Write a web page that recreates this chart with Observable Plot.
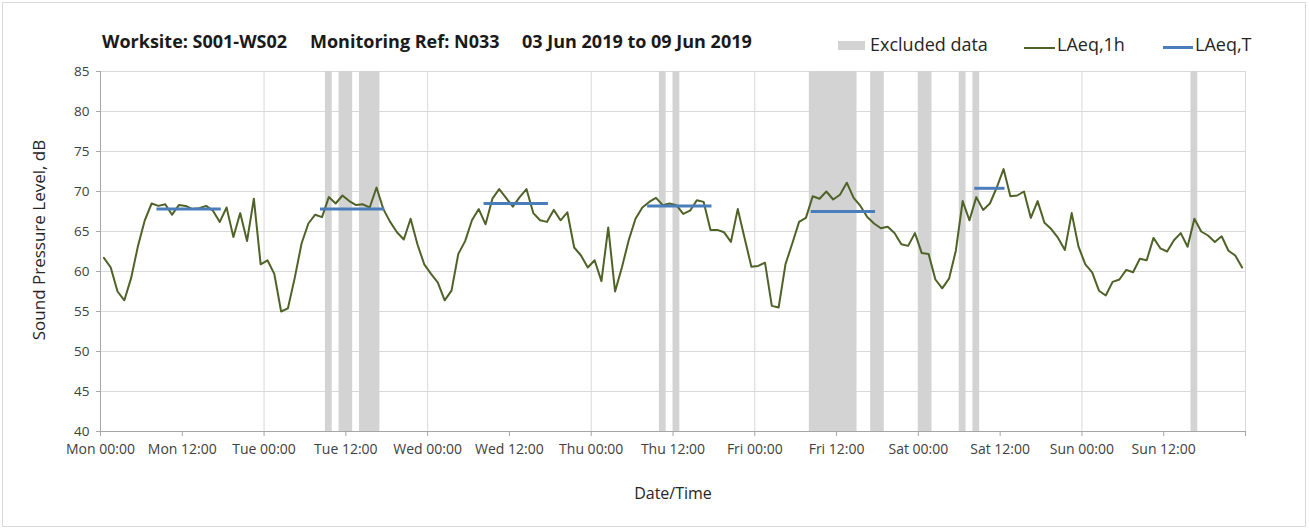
<!DOCTYPE html>
<html>
<head>
<meta charset="utf-8">
<script src="https://cdn.jsdelivr.net/npm/d3@7"></script>
<script src="https://cdn.jsdelivr.net/npm/@observablehq/plot@0.6"></script>
<style>
  body { margin: 0; background: #fff; font-family: "Open Sans", sans-serif; }
  #wrap { position: relative; width: 1309px; height: 530px; overflow: hidden; background: #fff; }
  #frame { position: absolute; left: 2px; top: 2px; width: 1304px; height: 525px; border: 1px solid #d9d9d9; box-sizing: border-box; pointer-events: none; }
  #header { position: absolute; left: 0; top: 0; width: 1309px; height: 56px; }
  .t { position: absolute; top: 30px; font-weight: bold; font-size: 18px; color: #1a1a1a; white-space: nowrap; line-height: 22px; }
  .lg { position: absolute; top: 33px; font-size: 18px; color: #262626; white-space: nowrap; line-height: 22px; }
  .sw { position: absolute; }
  #chart { position: absolute; left: 0; top: 56px; }
  #ylab { position: absolute; left: 38px; top: 240px; transform: translate(-50%, -50%) rotate(-90deg); font-size: 17px; color: #262626; white-space: nowrap; }
  #xlab { position: absolute; left: 673px; top: 493px; transform: translate(-50%, -50%); font-size: 16px; color: #262626; white-space: nowrap; }
</style>
</head>
<body>
<div id="wrap">
  <div id="header">
    <span class="t" style="left:102px">Worksite: S001-WS02</span>
    <span class="t" style="left:310px">Monitoring Ref: N033</span>
    <span class="t" style="left:522px">03 Jun 2019 to 09 Jun 2019</span>
    <div class="sw" style="left:838px;top:41px;width:27px;height:9px;background:#d3d3d3"></div>
    <span class="lg" style="left:870px">Excluded data</span>
    <div class="sw" style="left:1024px;top:47px;width:31px;height:2px;background:#4f6228"></div>
    <span class="lg" style="left:1057px">LAeq,1h</span>
    <div class="sw" style="left:1163px;top:46px;width:30px;height:3px;background:#4a7ebb"></div>
    <span class="lg" style="left:1195px">LAeq,T</span>
  </div>
  <div id="chart"></div>
  <div id="ylab">Sound Pressure Level, dB</div>
  <div id="xlab">Date/Time</div>
  <div id="frame"></div>
</div>
<script>
// ---- Data (hourly LAeq,1h, dB) ----
const weekStart = "2019-06-03T00:00Z";
const weekEnd = "2019-06-10T00:00Z";
const mon = [61.7, 60.5, 57.5, 56.4, 59.2, 63.2, 66.4, 68.5, 68.2, 68.4, 67.1, 68.3, 68.2, 67.8, 67.9, 68.2, 67.6, 66.2, 68.0, 64.3, 67.3, 63.8, 69.1, 60.9];
const tue = [61.4, 59.7, 55.0, 55.4, 59.2, 63.5, 66.0, 67.1, 66.8, 69.3, 68.5, 69.5, 68.8, 68.3, 68.4, 68.0, 70.5, 67.8, 66.2, 64.9, 64.0, 66.6, 63.4, 60.9];
const wed = [59.7, 58.6, 56.4, 57.6, 62.2, 63.8, 66.4, 67.8, 65.9, 69.1, 70.3, 69.2, 68.1, 69.3, 70.3, 67.3, 66.4, 66.2, 67.7, 66.4, 67.4, 63.0, 62.0, 60.5];
const thu = [61.4, 58.8, 65.5, 57.5, 60.5, 63.9, 66.6, 68.0, 68.7, 69.2, 68.3, 68.5, 68.3, 67.2, 67.6, 68.9, 68.7, 65.2, 65.2, 64.9, 63.7, 67.8, 64.2, 60.6];
const fri = [60.7, 61.1, 55.7, 55.5, 60.9, 63.5, 66.2, 66.7, 69.4, 69.1, 70.0, 69.0, 69.6, 71.1, 69.2, 68.2, 66.8, 66.0, 65.4, 65.6, 64.8, 63.4, 63.2, 64.8];
const sat = [62.3, 62.2, 59.0, 57.9, 59.1, 62.6, 68.8, 66.4, 69.3, 67.7, 68.5, 70.5, 72.8, 69.4, 69.5, 70.0, 66.7, 68.8, 66.1, 65.3, 64.2, 62.7, 67.3, 63.1];
const sun = [60.9, 59.9, 57.6, 57.0, 58.7, 59.0, 60.2, 59.9, 61.6, 61.4, 64.2, 62.9, 62.5, 63.9, 64.8, 63.1, 66.6, 65.0, 64.5, 63.7, 64.4, 62.6, 62.0, 60.5];

// Excluded data periods
const excludedStart = ["2019-06-04T09:00Z", "2019-06-04T11:00Z", "2019-06-04T14:00Z", "2019-06-06T10:00Z", "2019-06-06T12:00Z", "2019-06-07T08:00Z", "2019-06-07T17:00Z", "2019-06-08T00:00Z", "2019-06-08T06:00Z", "2019-06-08T08:00Z", "2019-06-09T16:00Z"];
const excludedEnd   = ["2019-06-04T10:00Z", "2019-06-04T13:00Z", "2019-06-04T17:00Z", "2019-06-06T11:00Z", "2019-06-06T13:00Z", "2019-06-07T15:00Z", "2019-06-07T19:00Z", "2019-06-08T02:00Z", "2019-06-08T07:00Z", "2019-06-08T09:00Z", "2019-06-09T17:00Z"];

// LAeq,T working-period levels
const periodStart = ["2019-06-03T08:30Z", "2019-06-04T08:30Z", "2019-06-05T08:30Z", "2019-06-06T08:30Z", "2019-06-07T08:30Z", "2019-06-08T08:30Z"];
const periodEnd   = ["2019-06-03T17:30Z", "2019-06-04T17:30Z", "2019-06-05T17:30Z", "2019-06-06T17:30Z", "2019-06-07T17:30Z", "2019-06-08T12:30Z"];
const laeqT = [67.8, 67.8, 68.5, 68.2, 67.5, 70.4];

const yTickValues = [40, 45, 50, 55, 60, 65, 70, 75, 80, 85];

// ---- Build tables ----
const t0 = new Date(weekStart), t1 = new Date(weekEnd);
const hourly = [mon, tue, wed, thu, fri, sat, sun].flat()
  .map((v, i) => ({time: new Date(+t0 + (i + 0.5) * 3600e3), value: v}));
const excluded = excludedStart.map((s, i) => ({x1: new Date(s), x2: new Date(excludedEnd[i])}));
const periods = periodStart.map((s, i) => ({x1: new Date(s), x2: new Date(periodEnd[i]), y: laeqT[i]}));
const dayTicks = d3.utcDay.range(t0, new Date(+t1 + 1));
const halfDayTicks = d3.utcHour.every(12).range(t0, new Date(+t1 + 1));
const fmt = d3.utcFormat("%a %H:%M");
const tickFmt = (d) => (+d === +t1 ? "" : fmt(d));

const chart = Plot.plot({
  width: 1309,
  height: 474,
  marginLeft: 100,
  marginRight: 64,
  marginTop: 15,
  marginBottom: 99,
  style: {fontFamily: "Open Sans, sans-serif", fontSize: "13px", color: "#404040", background: "transparent", overflow: "visible"},
  x: {type: "utc", domain: [t0, t1]},
  y: {domain: [40, 85]},
  marks: [
    Plot.gridY({ticks: yTickValues, stroke: "#d9d9d9", strokeOpacity: 1, strokeWidth: 1}),
    Plot.gridX({ticks: dayTicks, stroke: "#d9d9d9", strokeOpacity: 1, strokeWidth: 1}),
    Plot.rect(excluded, {x1: "x1", x2: "x2", y1: 40, y2: 85, fill: "#d3d3d3"}),
    Plot.ruleX([t0], {stroke: "#a6a6a6"}),
    Plot.ruleY([40], {stroke: "#a6a6a6"}),
    Plot.axisY({ticks: yTickValues, tickSize: 4, tickPadding: 7, stroke: "#a6a6a6", fill: "#404040", fontSize: 13.5, label: null}),
    Plot.axisX({ticks: halfDayTicks, tickFormat: tickFmt, tickSize: 5, tickPadding: 8, stroke: "#a6a6a6", fill: "#404040", fontSize: 14, label: null}),
    Plot.line(hourly, {x: "time", y: "value", stroke: "#4f6228", strokeWidth: 2, strokeLinejoin: "round"}),
    Plot.ruleY(periods, {x1: "x1", x2: "x2", y: "y", stroke: "#4a7ebb", strokeWidth: 3, strokeLinecap: "square"})
  ]
});
document.getElementById("chart").appendChild(chart);
</script>
</body>
</html>
